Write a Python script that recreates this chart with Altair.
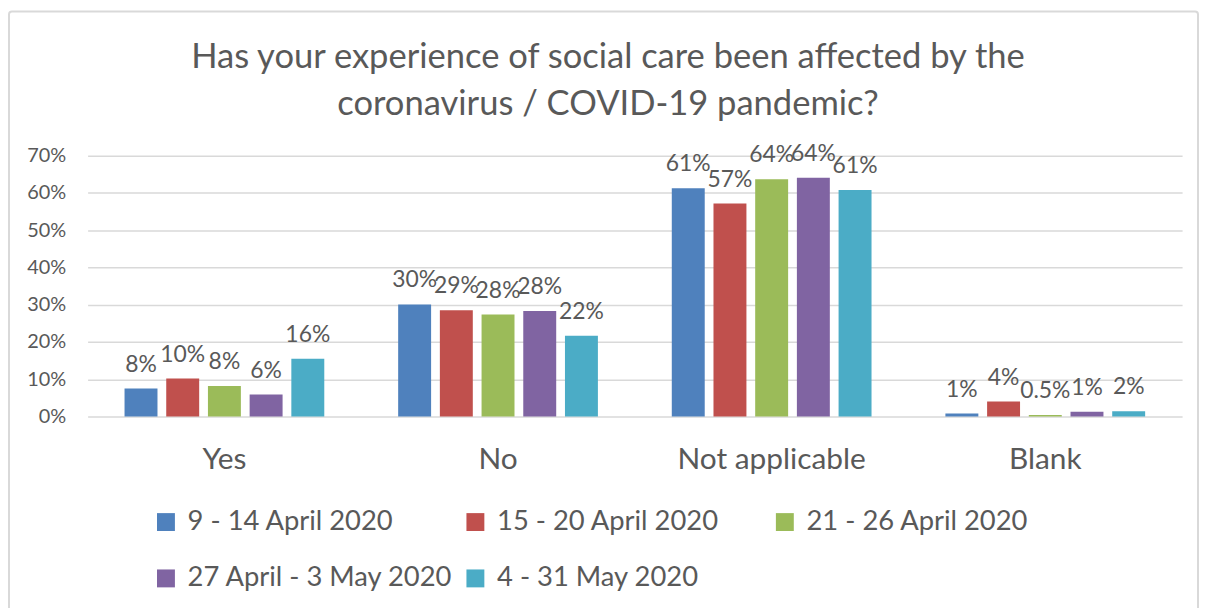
import altair as alt
import pandas as pd

categories = ["Yes", "No", "Not applicable", "Blank"]
periods = ["9 - 14 April 2020", "15 - 20 April 2020", "21 - 26 April 2020",
           "27 April - 3 May 2020", "4 - 31  May 2020"]
colors = ["#4F81BD", "#C0504D", "#9BBB59", "#8064A2", "#4BACC6"]

p1_values = [7.5, 30.1, 61.3, 0.8]
p2_values = [10.2, 28.5, 57.2, 4.0]
p3_values = [8.2, 27.4, 63.7, 0.4]
p4_values = [5.9, 28.3, 64.1, 1.3]
p5_values = [15.5, 21.7, 60.8, 1.4]

p1_labels = ["8%", "30%", "61%", "1%"]
p2_labels = ["10%", "29%", "57%", "4%"]
p3_labels = ["8%", "28%", "64%", "0.5%"]
p4_labels = ["6%", "28%", "64%", "1%"]
p5_labels = ["16%", "22%", "61%", "2%"]

y_ticks = [0, 0.1, 0.2, 0.3, 0.4, 0.5, 0.6, 0.7]

all_values = [p1_values, p2_values, p3_values, p4_values, p5_values]
all_labels = [p1_labels, p2_labels, p3_labels, p4_labels, p5_labels]

rows = []
for pi, period in enumerate(periods):
    for ci, cat in enumerate(categories):
        rows.append({"category": cat, "period": period,
                     "value": all_values[pi][ci] / 100.0,
                     "label": all_labels[pi][ci]})
df = pd.DataFrame(rows)

FONT = "Lato"
TXT = "#595959"

x_enc = alt.X("category:N", sort=categories,
              scale=alt.Scale(paddingInner=0.27, paddingOuter=0.135),
              axis=alt.Axis(title=None, labelAngle=0, ticks=False, domain=False,
                            labelFontSize=30, labelColor=TXT, labelFont=FONT,
                            labelPadding=28, labelLimit=400))
xoff = alt.XOffset("period:N", sort=periods, scale=alt.Scale(paddingInner=0.21))
y_enc = alt.Y("value:Q", scale=alt.Scale(domain=[0, 0.7]),
              axis=alt.Axis(title=None, format=".0%", values=y_ticks,
                            ticks=False, domain=False, gridColor="#D9D9D9", gridWidth=1.5,
                            labelFontSize=20, labelColor=TXT, labelFont=FONT,
                            labelPadding=22))

bars = alt.Chart(df).mark_bar().encode(
    x=x_enc,
    xOffset=xoff,
    y=y_enc,
    color=alt.Color("period:N", sort=periods,
                    scale=alt.Scale(domain=periods, range=colors),
                    legend=alt.Legend(title=None, orient="none", legendX=65, legendY=354,
                                      direction="horizontal",
                                      columns=3, gridAlign="all", symbolType="square",
                                      symbolSize=324, symbolStrokeWidth=0,
                                      labelFontSize=27.5, labelColor=TXT,
                                      labelFont=FONT, columnPadding=8, rowPadding=28,
                                      labelOffset=8, labelLimit=500)),
)

text = alt.Chart(df).mark_text(dy=-17, fontSize=23, color=TXT, font=FONT,
                               baseline="alphabetic").encode(
    x=x_enc,
    xOffset=xoff,
    y=y_enc,
    text="label:N",
)

border = alt.Chart(alt.Data(values=[{}])).mark_rect(
    fill=None, stroke="#D9D9D9", strokeWidth=2, cornerRadius=3).encode(
    x=alt.value(-79), x2=alt.value(1116), y=alt.value(-145), y2=alt.value(480))

chart = alt.layer(border, bars, text).properties(
    width=1100, height=262,
    title=alt.TitleParams(
        ["Has your experience of social care been affected by the",
         "coronavirus / COVID-19 pandemic?"],
        fontSize=34.7, font=FONT, fontWeight="normal", color=TXT,
        anchor="middle", lineHeight=48, offset=-113, dx=-27),
    autosize=alt.AutoSizeParams(type="none"),
    padding={"left": 80, "top": 147, "right": 18, "bottom": 200},
).configure(background="white").configure_view(stroke=None)

chart.save("out.html", embed_options={"renderer": "svg", "actions": False})
